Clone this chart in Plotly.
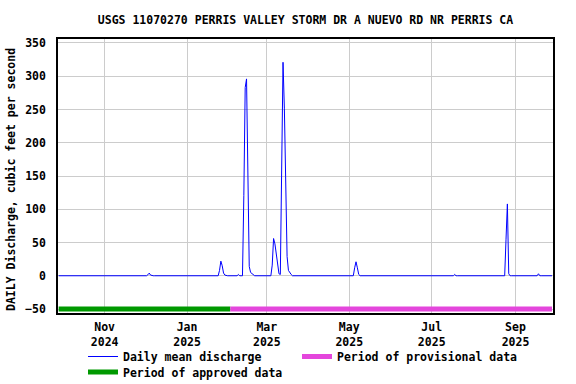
import plotly.graph_objects as go
import pandas as pd

# ---- data ----
start_date = "2024-09-28"
end_date = "2025-09-28"
approved_end = "2025-02-02"

event_dates = [
    "2024-12-03", "2024-12-04", "2024-12-05",
    "2025-01-25", "2025-01-26", "2025-01-27", "2025-01-28", "2025-01-29",
    "2025-02-08",
    "2025-02-12", "2025-02-13", "2025-02-14", "2025-02-15", "2025-02-16",
    "2025-02-17", "2025-02-18", "2025-02-19",
    "2025-03-05", "2025-03-06", "2025-03-07", "2025-03-08", "2025-03-09",
    "2025-03-10", "2025-03-11", "2025-03-12", "2025-03-13", "2025-03-14",
    "2025-03-15", "2025-03-16", "2025-03-17", "2025-03-18", "2025-03-19",
    "2025-04-27",
    "2025-05-05", "2025-05-06", "2025-05-07", "2025-05-08",
    "2025-07-18",
    "2025-08-25", "2025-08-26", "2025-08-27",
    "2025-09-18",
]
event_values = [
    1.5, 4, 1,
    8, 22, 15, 4, 1,
    2,
    121, 283, 296, 159, 14,
    5, 3, 1,
    16, 56, 48, 32, 14,
    3, 2, 164, 321, 251,
    114, 29, 8, 4, 2,
    1,
    12, 21, 12, 2,
    2,
    55, 108, 3,
    3,
]

tick_dates = ["2024-11-01", "2025-01-01", "2025-03-01",
              "2025-05-01", "2025-07-01", "2025-09-01"]
tick_labels = ["Nov<br>2024", "Jan<br>2025", "Mar<br>2025",
               "May<br>2025", "Jul<br>2025", "Sep<br>2025"]
y_ticks = [-50, 0, 50, 100, 150, 200, 250, 300, 350]
status_level = -50

# daily series (zero flow on days without events)
days = pd.date_range(start_date, end_date, freq="D")
flow = pd.Series(0.0, index=days)
flow.loc[pd.to_datetime(event_dates)] = event_values

FONT = "DejaVu Sans Mono"
fs = 11.5

fig = go.Figure()
fig.add_trace(go.Scatter(
    x=[start_date, approved_end], y=[status_level, status_level],
    mode="lines", line=dict(color="#009900", width=5),
    name="Period of approved data", legend="legend3"))
fig.add_trace(go.Scatter(
    x=[approved_end, end_date], y=[status_level, status_level],
    mode="lines", line=dict(color="#e446dc", width=5),
    name="Period of provisional data", legend="legend2"))
fig.add_trace(go.Scatter(
    x=flow.index, y=flow.values,
    mode="lines", line=dict(color="#0000ff", width=1),
    name="Daily mean discharge", legend="legend"))

W, H = 576, 384
L, R, T, B = 58, 23, 39, 71
pw, ph = W - L - R, H - T - B

def px_x(px):
    return (px - L) / pw

def px_y(py):
    return (H - B - py) / ph

leg_common = dict(orientation="v", xanchor="left", yanchor="middle",
                  font=dict(family=FONT, size=fs, color="black", weight="bold"),
                  bgcolor="rgba(0,0,0,0)", borderwidth=0)

fig.update_layout(
    width=W, height=H,
    margin=dict(l=L, r=R, t=T, b=B, autoexpand=False),
    paper_bgcolor="white", plot_bgcolor="white",
    font=dict(family=FONT, size=fs, color="black", weight="bold"),
    title=dict(text="USGS 11070270 PERRIS VALLEY STORM DR A NUEVO RD NR PERRIS CA",
               x=0.5, xref="paper", xanchor="center",
               y=1 - 19.5 / H, yref="container", yanchor="middle",
               font=dict(family=FONT, size=fs, color="black", weight="bold")),
    showlegend=True,
    legend=dict(x=px_x(83), y=px_y(356.5), **leg_common),
    legend2=dict(x=px_x(297), y=px_y(356.5), **leg_common),
    legend3=dict(x=px_x(83), y=px_y(372), **leg_common),
    xaxis=dict(
        type="date",
        range=["2024-09-27 12:00", "2025-09-28 18:00"],
        tickvals=tick_dates, ticktext=tick_labels,
        showgrid=True, gridcolor="#cccccc", gridwidth=1,
        showline=True, linecolor="black", linewidth=1.5, mirror=True,
        ticks="", ticklabelstandoff=2,
        tickfont=dict(family=FONT, size=fs, color="black", weight="bold"),
        zeroline=False,
    ),
    yaxis=dict(
        range=[-56, 356],
        tickvals=y_ticks,
        showgrid=True, gridcolor="#cccccc", gridwidth=1,
        showline=True, linecolor="black", linewidth=1.5, mirror=True,
        ticks="", ticklabelstandoff=8,
        tickfont=dict(family=FONT, size=fs, color="black", weight="bold"),
        zeroline=False,
    ),
    annotations=[dict(
        text="DAILY Discharge, cubic feet per second",
        xref="paper", yref="paper", x=px_x(11), y=px_y(180),
        xanchor="center", yanchor="middle", textangle=-90, showarrow=False,
        font=dict(family=FONT, size=fs, color="black", weight="bold"))],
)

fig.write_html("out.html")
